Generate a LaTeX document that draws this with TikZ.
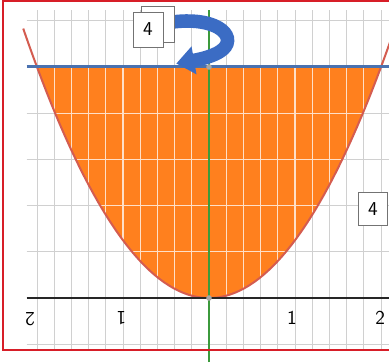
\documentclass[tikz,border=0pt]{standalone}
\usepackage{tikz}
\usetikzlibrary{arrows.meta}

\begin{document}
\begin{tikzpicture}[x=2.15cm, y=1.44375cm]
  \definecolor{gridcol}{RGB}{208,208,208}
  \definecolor{fillcol}{RGB}{255,128,30}
  \definecolor{curvecol}{RGB}{212,92,80}
  \definecolor{levelcol}{RGB}{74,114,176}
  \definecolor{axiscol}{RGB}{60,154,60}
  \definecolor{rotcol}{RGB}{59,108,196}
  \definecolor{framecol}{RGB}{215,30,40}
  \tikzset{
    gridline/.style={draw=gridcol, line width=0.5pt},
    hatch/.style={draw=white!75!fillcol, line width=0.8pt},
    numlbl/.style={font=\sffamily\fontsize{14}{16}\selectfont, inner sep=1pt},
    valbox/.style={rectangle, draw=black!55, fill=white, line width=0.5pt,
      minimum width=0.75cm, minimum height=0.87cm, inner sep=0pt,
      font=\sffamily\fontsize{14}{16}\selectfont},
    rotarr/.style={-{Triangle[length=0.45cm, width=0.68cm]}, line width=0.34cm, draw=rotcol},
    dotmark/.style={fill=black!35}
  }
  \useasboundingbox (-2.430,-1.108) rectangle (2.093,5.160);
  \fill[white] (-2.430,-1.108) rectangle (2.093,5.160);
  % grid
  \foreach \i in {-10,...,10}
    \draw[gridline] (\i*0.2,-0.9) -- (\i*0.2,4.98);
  \foreach \j in {-1,...,6}
    \draw[gridline] (-2.12,\j*0.8) -- (2.1,\j*0.8);
  % region under the level line
  \fill[fillcol] plot[domain=-2:2, samples=80] (\x,{\x*\x}) -- cycle;
  \begin{scope}
    \clip plot[domain=-2:2, samples=80] (\x,{\x*\x}) -- cycle;
    \foreach \i in {-10,...,10}
      \draw[hatch] (\i*0.2,0) -- (\i*0.2,4);
    \foreach \j in {1,...,4}
      \draw[hatch] (-2,\j*0.8) -- (2,\j*0.8);
  \end{scope}
  \draw[curvecol, line width=0.05cm] plot[domain=-2.16:2.16, samples=80] (\x,{\x*\x});
  % lines
  \draw[levelcol, line width=0.075cm] (-2.12,4) -- (2.1,4);
  \draw[black!85, line width=0.06cm] (-2.12,0) -- (2.1,0);
  \draw[axiscol, line width=0.035cm] (0,-1.108) -- (0,4.98);
  \fill[dotmark] (0,0) circle (0.07cm);
  \fill[dotmark] (0,4) circle (0.07cm);
  % tick labels
  \node[numlbl, rotate=180] (lblmtwo) at (-2.08,-0.37) {2};
  \node[numlbl, rotate=180] (lblmone) at (-1.02,-0.35) {1};
  \node[numlbl] (lblone) at (0.965,-0.35) {1};
  \node[numlbl] (lbltwo) at (1.99,-0.35) {2};
  % rotation arrow and value boxes
  \coordinate (rotstart) at (-0.42,4.78);
  \coordinate (rottip) at (-0.38,4.06);
  \draw[rotarr] (rotstart) .. controls (0.14,4.88) and (0.35,4.48) .. (0.13,4.27)
    .. controls (0.05,4.19) and (-0.08,4.14) .. (rottip);
  \node[valbox, minimum width=0.83cm, minimum height=0.9cm] (stackback) at (-0.599,4.745) {};
  \node[valbox] (stackfront) at (-0.709,4.649) {4};
  \node[valbox, minimum width=0.72cm, minimum height=0.83cm] (heightbox) at (1.907,1.541) {4};
  % frame
  \draw[framecol, line width=0.05cm] (-2.395,-0.900) rectangle (2.12,5.143);
\end{tikzpicture}
\end{document}
